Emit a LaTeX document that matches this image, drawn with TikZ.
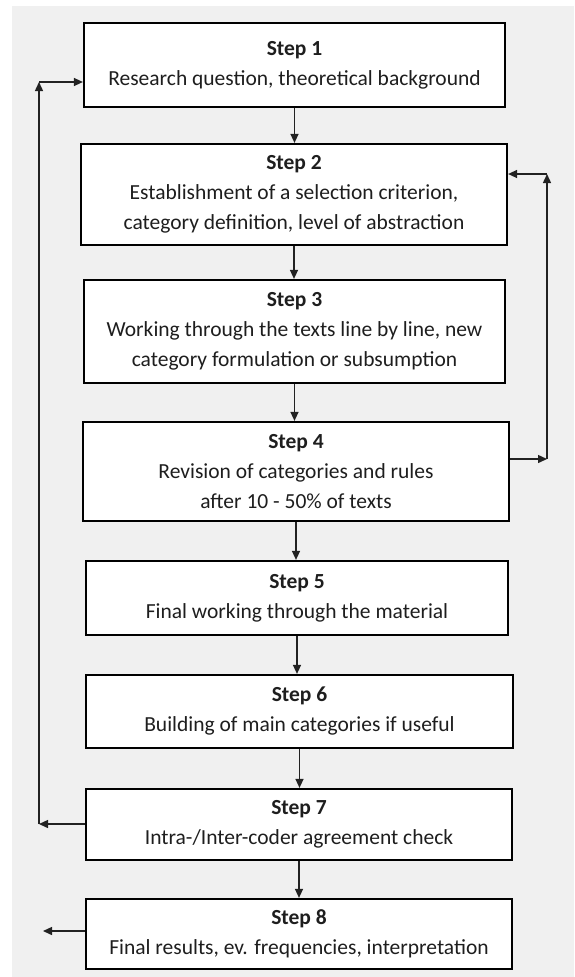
\documentclass[tikz,border=0pt]{standalone}
\usepackage{fontspec}
\setmainfont{Carlito}
\usetikzlibrary{arrows.meta}
\definecolor{bggray}{HTML}{F0F0F0}
\definecolor{txt}{HTML}{1E1E1E}
\definecolor{ln}{HTML}{222222}
\tikzset{
  stepbox/.style={draw=black, fill=white, line width=2.2pt, rectangle, inner sep=0pt,
    align=center, text=txt, font=\fontsize{21.5}{30}\selectfont},
  conn/.style={draw=ln, line width=1.4pt, -{Triangle[length=9pt,width=8pt]}},
  plain/.style={draw=ln, line width=1.4pt}
}
\begin{document}
\begin{tikzpicture}[x=1pt,y=-1pt]
\useasboundingbox (0,0) rectangle (574,977);
\fill[white] (0,0) rectangle (574,977);
\fill[bggray] (12,6) rectangle (574,977);

\node[stepbox, minimum width=421pt, minimum height=84pt] (b1) at (294.5,65)
  {\textbf{Step 1}\\Research question, theoretical background};
\node[stepbox, minimum width=426pt, minimum height=101pt] (b2) at (294,194.5)
  {\textbf{Step 2}\\Establishment of a selection criterion,\\category definition, level of abstraction};
\node[stepbox, minimum width=421pt, minimum height=103pt] (b3) at (294.5,331.5)
  {\textbf{Step 3}\\Working through the texts line by line, new\\category formulation or subsumption};
\node[stepbox, minimum width=426pt, minimum height=99pt] (b4) at (296,471.5)
  {\textbf{Step 4}\\Revision of categories and rules\\after 10 - 50\% of texts};
\node[stepbox, minimum width=422pt, minimum height=74pt] (b5) at (297,598)
  {\textbf{Step 5}\\Final working through the material};
\node[stepbox, minimum width=427pt, minimum height=73pt] (b6) at (299.5,711.5)
  {\textbf{Step 6}\\Building of main categories if useful};
\node[stepbox, minimum width=426pt, minimum height=71pt] (b7) at (299,824.5)
  {\textbf{Step 7}\\Intra-/Inter-coder agreement check};
\node[stepbox, minimum width=426pt, minimum height=70pt] (b8) at (299,934)
  {\textbf{Step 8}\\Final results, ev. frequencies, interpretation};

% vertical flow
\draw[conn] (b1.south) -- (b1.south |- b2.north);
\draw[conn] (b2.south) -- (b2.south |- b3.north);
\draw[conn] (b3.south) -- (b3.south |- b4.north);
\draw[conn] (b4.south) -- (b4.south |- b5.north);
\draw[conn] (b5.south) -- (b5.south |- b6.north);
\draw[conn] (b6.south) -- (b6.south |- b7.north);
\draw[conn] (b7.south) -- (b7.south |- b8.north);

% left feedback loop
\coordinate (L7) at (39,824);
\coordinate (L1) at (39,82);
\draw[conn] (L7 -| b7.west) -- (L7);
\draw[conn] (L7) -- (L1);
\draw[conn] (L1) -- (L1 -| b1.west);

% right feedback loop
\coordinate (R4) at (547,459);
\coordinate (R2) at (547,174);
\draw[conn] (R4 -| b4.east) -- (R4);
\draw[conn] (R4) -- (R2);
\draw[conn] (R2) -- (R2 -| b2.east);

% step 8 outgoing
\coordinate (E8) at (43,931);
\draw[conn] (E8 -| b8.west) -- (E8);
\end{tikzpicture}
\end{document}
